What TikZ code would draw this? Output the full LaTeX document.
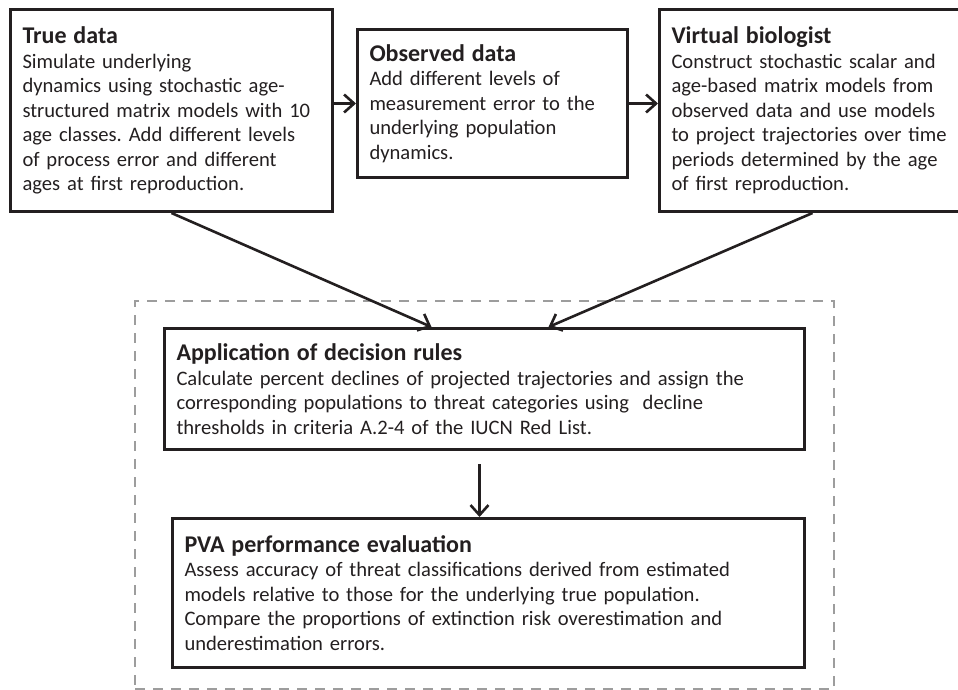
\documentclass[tikz,border=0pt]{standalone}
\usepackage{fontspec}
\setmainfont{Carlito}
\usepackage{xcolor}
\definecolor{boxline}{HTML}{231F20}
\definecolor{dashgray}{HTML}{9D9D9D}
\usetikzlibrary{arrows.meta, fit, backgrounds}
\newcommand{\boxhead}[1]{{\fontsize{12}{13}\selectfont\bfseries #1}}
\frenchspacing

\begin{document}
\begin{tikzpicture}[x=0.5pt, y=-0.5pt,
  stagebox/.style={
    draw=boxline, line width=1.5pt, anchor=north west,
    align=left, inner xsep=6pt, inner ysep=4pt, text=boxline,
    font=\fontsize{10.3}{12.25}\selectfont
  },
  arrow/.style={-{Straight Barb[length=5pt, width=9pt]}, line width=1.3pt, boxline},
  groupbox/.style={draw=dashgray, line width=1.3pt, dash pattern=on 5pt off 4pt,
                   inner xsep=14pt, inner ysep=11.5pt}
]
\useasboundingbox (0,0) rectangle (958,690);
\clip (0,0) rectangle (958,690);

% ---- simulation steps ----
\node[stagebox, text width=149pt, minimum height=101pt] (true) at (9,8)
  {\boxhead{True data}\\
   Simulate underlying\\
   dynamics using stochastic age-\\
   structured matrix models with 10\\
   age classes. Add different levels\\
   of process error and different\\
   ages at first reproduction.};

\node[stagebox, text width=123pt, minimum height=74pt] (obs) at (356,28)
  {\boxhead{Observed data}\\
   Add different levels of\\
   measurement error to the\\
   underlying population\\
   dynamics.};

\node[stagebox, text width=141pt, minimum height=101pt] (vb) at (658,8)
  {\boxhead{Virtual biologist}\\
   Construct stochastic scalar and\\
   age-based matrix models from\\
   observed data and use models\\
   to project trajectories over time\\
   periods determined by the age\\
   of first reproduction.};

% ---- evaluation ----
\node[stagebox, text width=308pt, minimum height=60.5pt] (app) at (163,327)
  {\boxhead{Application of decision rules}\\
   Calculate percent declines of projected trajectories and assign the\\
   corresponding populations to threat categories using~ decline\\
   thresholds in criteria A.2-4 of the IUCN Red List.};

\node[stagebox, text width=304pt, minimum height=74.5pt] (pva) at (171,517)
  {\boxhead{PVA performance evaluation}\\
   Assess accuracy of threat classifications derived from estimated\\
   models relative to those for the underlying true population.\\
   Compare the proportions of extinction risk overestimation and\\
   underestimation errors.};

\begin{scope}[on background layer]
  \node[groupbox, fit=(app)(pva), yshift=1.5pt] (evalbox) {};
\end{scope}

% ---- arrows ----
\draw[arrow] (true.east |- obs.west) -- (obs.west);
\draw[arrow] (obs.east) -- (vb.west |- obs.east);
\draw[arrow] (true.south) -- ([xshift=-26.5pt]app.north);
\draw[arrow] (vb.south) -- ([xshift=32pt]app.north);
\draw[arrow] ([xshift=-2.5pt, yshift=-6.5pt]app.south) -- ([xshift=-4.5pt]pva.north);

\end{tikzpicture}
\end{document}
